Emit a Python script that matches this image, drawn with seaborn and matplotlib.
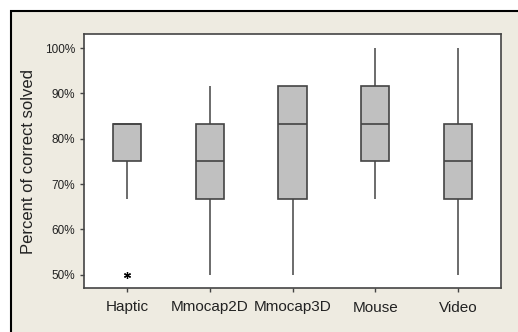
import numpy as np
import pandas as pd
import matplotlib
matplotlib.use("Agg")
import matplotlib.pyplot as plt
import seaborn as sns
from matplotlib.patches import Rectangle

# correct answers out of 12 per participant, read from box summaries
methods = ["Haptic", "Mmocap2D", "Mmocap3D", "Mouse", "Video"]
haptic = [6, 8, 9, 9, 10, 10, 10, 10, 10]
mmocap2d = [6, 7, 8, 8, 9, 9, 10, 10, 11]
mmocap3d = [6, 7, 8, 9, 10, 11, 11, 11, 11]
mouse = [8, 9, 9, 10, 10, 10, 11, 11, 12]
video = [6, 7, 8, 9, 9, 9, 10, 11, 12]
n_questions = 12
yticks = [50, 60, 70, 80, 90, 100]

rows = []
for name, vals in zip(methods, [haptic, mmocap2d, mmocap3d, mouse, video]):
    for v in vals:
        rows.append({"method": name, "pct": v / n_questions * 100})
df = pd.DataFrame(rows)

sns.set_style("ticks")
plt.rcParams["font.family"] = ["Liberation Sans", "DejaVu Sans"]

fig = plt.figure(figsize=(5.18, 3.32), dpi=100, facecolor="white")
top = 1 - 11 / 332
fig.patches.append(Rectangle((11 / 518, -1), 2, top + 1,
                             transform=fig.transFigure, facecolor="#EEEBE1",
                             edgecolor="black", linewidth=1.5, zorder=-10))
ax = fig.add_axes([84 / 518, 1 - 288 / 332, (501 - 84) / 518, (288 - 34) / 332])
ax.set_facecolor("white")

edge = "#444444"
sns.boxplot(data=df, x="method", y="pct", order=methods, ax=ax,
            color="#C0C0C0", width=0.34, whis=1.5, showcaps=False,
            boxprops=dict(facecolor="#C0C0C0", edgecolor=edge, linewidth=1.2),
            medianprops=dict(color=edge, linewidth=1.2),
            whiskerprops=dict(color=edge, linewidth=1.1),
            flierprops=dict(marker=(6, 2, 0), markersize=5, markeredgecolor="black",
                            markerfacecolor="black", markeredgewidth=0.9))

ax.set_ylim(47.1, 103.1)
ax.set_xlim(-0.52, 4.52)
ax.set_yticks(yticks)
ax.set_yticklabels([f"{t}%" for t in yticks], fontsize=8.5, color="#222222")
ax.set_xticks(range(len(methods)))
ax.set_xticklabels(methods, fontsize=11, color="#222222")
ax.tick_params(axis="both", direction="out", length=3, width=1, color=edge)
ax.tick_params(axis="x", pad=6)
ax.set_xlabel("")
ax.set_ylabel("Percent of correct solved", fontsize=12, color="#222222", labelpad=6)
for s in ax.spines.values():
    s.set_visible(True)
    s.set_color(edge)
    s.set_linewidth(1.2)

fig.savefig("out.png", dpi=100, facecolor=fig.get_facecolor())
